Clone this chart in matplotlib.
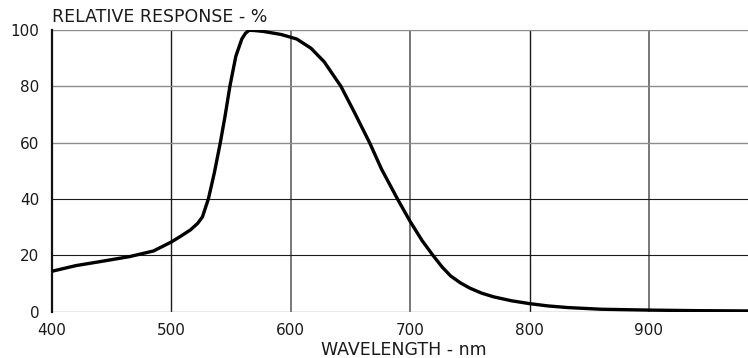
import matplotlib.pyplot as plt

# values
wavelength = [400, 420, 440, 465, 485, 500, 508, 516, 522, 526, 531, 536,
              541, 545, 549, 554, 559, 562, 565, 570, 577, 592, 605, 617,
              628, 642, 653, 666, 676, 690, 700, 710, 719, 727, 734, 742,
              750, 760, 770, 785, 800, 815, 832, 860, 900, 940, 983]
response = [14.3, 16.3, 17.7, 19.5, 21.5, 24.7, 26.8, 29.0, 31.3, 33.6,
            40.0, 49.3, 60.0, 69.5, 80.0, 90.7, 96.8, 98.8, 99.9, 99.8,
            99.5, 98.4, 96.8, 93.5, 88.7, 80.0, 71.0, 60.0, 50.6, 39.5,
            32.0, 25.2, 20.0, 15.7, 12.6, 10.2, 8.3, 6.5, 5.2, 3.8, 2.8,
            2.0, 1.4, 0.8, 0.5, 0.3, 0.2]

x_ticks = [400, 500, 600, 700, 800, 900]
y_ticks = [0, 20, 40, 60, 80, 100]

plt.rcParams['font.family'] = ['DejaVu Sans']

fig = plt.figure(figsize=(7.48, 3.58), dpi=100)
ax = fig.add_axes([52 / 748, 46.5 / 358, 696 / 748, 281.5 / 358])

ax.plot(wavelength, response, color='black', linewidth=2.4,
        solid_capstyle='round', solid_joinstyle='round', zorder=3)

ax.set_xlim(400, 983)
ax.set_ylim(0, 100)
ax.set_xticks(x_ticks)
ax.set_yticks(y_ticks)
ax.tick_params(length=0, labelsize=11, colors='#1a1a1a')
ax.tick_params(axis='x', pad=8)
ax.tick_params(axis='y', pad=9)

# grid lines of the scanned chart: some dark, some greyish
dark_x = [500, 800]
dark_y = [20, 40]
for x in x_ticks[1:]:
    if x in dark_x:
        ax.axvline(x, color='#1a1a1a', linewidth=1.0, zorder=1)
    else:
        ax.axvline(x, color='#777777', linewidth=1.4, zorder=1)
for y in y_ticks:
    if y in dark_y:
        ax.axhline(y, color='#1a1a1a', linewidth=0.8, zorder=1)
    else:
        ax.axhline(y, color='#8c8c8c', linewidth=1.0, zorder=1)

for side in ['top', 'right', 'bottom']:
    ax.spines[side].set_visible(False)
ax.spines['left'].set_linewidth(1.6)
ax.spines['left'].set_color('#111111')

fig.text(52 / 748, 1 - 17 / 358, 'RELATIVE RESPONSE - %', fontsize=12.5,
         ha='left', va='center', color='#1a1a1a')
fig.text(404 / 748, 1 - 350 / 358, 'WAVELENGTH - nm', fontsize=12.5,
         ha='center', va='center', color='#1a1a1a')

fig.savefig('out.png', dpi=100)
